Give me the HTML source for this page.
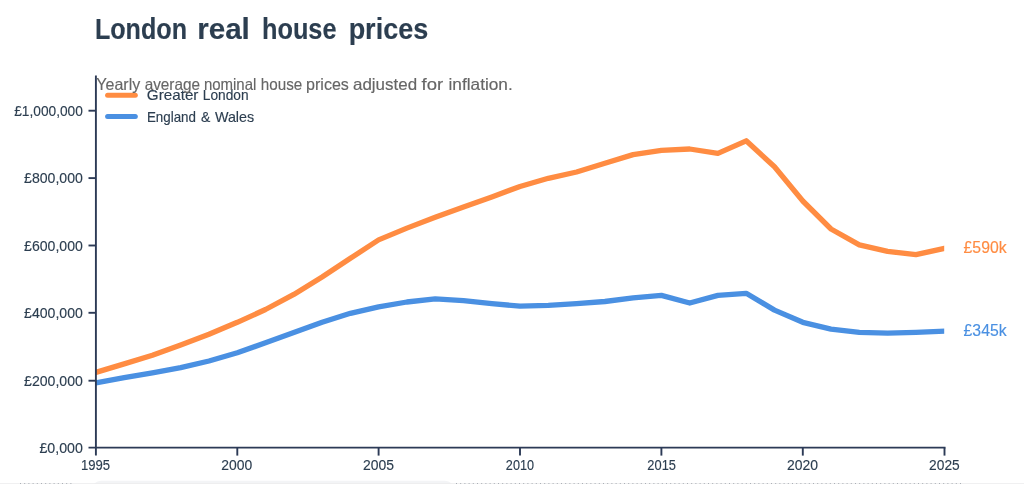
<!DOCTYPE html>
<html lang="en"><head><meta charset="utf-8"><title>London real house prices</title>
<style>
html,body{margin:0;padding:0;background:#fff;}
body{width:1024px;height:484px;overflow:hidden;position:relative;font-family:"Liberation Sans",sans-serif;}
svg{position:absolute;left:0;top:0;display:block}
text{font-family:"Liberation Sans",sans-serif;}
</style></head><body>
<svg width="1024" height="484" viewBox="0 0 1024 484">
<rect x="92" y="480.7" width="362" height="20" rx="9" fill="#f3f4f6"/><rect x="0" y="483.2" width="1024" height="1" fill="#ededee"/><path d="M20,483.7 H73 M456,483.7 H962" stroke="#9aa0a8" stroke-width="1" stroke-dasharray="1 3.2" fill="none"/>
<text y="38.80" font-size="29.5" font-weight="700" fill="#2c3e50" stroke="#2c3e50" stroke-width="0.15"><tspan x="94.90" textLength="92.11" lengthAdjust="spacingAndGlyphs">London</tspan> <tspan x="197.18" textLength="52.68" lengthAdjust="spacingAndGlyphs">real</tspan> <tspan x="262.03" textLength="74.49" lengthAdjust="spacingAndGlyphs">house</tspan> <tspan x="348.64" textLength="79.57" lengthAdjust="spacingAndGlyphs">prices</tspan></text>
<text y="452.70" font-size="15" fill="#2c3e50" stroke="#2c3e50" stroke-width="0.15"><tspan x="39.41" textLength="43.44" lengthAdjust="spacingAndGlyphs">£0,000</tspan></text>
<text y="385.77" font-size="15" fill="#2c3e50" stroke="#2c3e50" stroke-width="0.15"><tspan x="24.11" textLength="58.73" lengthAdjust="spacingAndGlyphs">£200,000</tspan></text>
<text y="317.94" font-size="15" fill="#2c3e50" stroke="#2c3e50" stroke-width="0.15"><tspan x="24.11" textLength="58.73" lengthAdjust="spacingAndGlyphs">£400,000</tspan></text>
<text y="250.56" font-size="15" fill="#2c3e50" stroke="#2c3e50" stroke-width="0.15"><tspan x="24.11" textLength="58.73" lengthAdjust="spacingAndGlyphs">£600,000</tspan></text>
<text y="183.18" font-size="15" fill="#2c3e50" stroke="#2c3e50" stroke-width="0.15"><tspan x="24.11" textLength="58.73" lengthAdjust="spacingAndGlyphs">£800,000</tspan></text>
<text y="115.80" font-size="15" fill="#2c3e50" stroke="#2c3e50" stroke-width="0.15"><tspan x="14.22" textLength="68.59" lengthAdjust="spacingAndGlyphs">£1,000,000</tspan></text>
<text y="470.20" font-size="14.9" fill="#2c3e50" stroke="#2c3e50" stroke-width="0.15"><tspan x="81.02" textLength="29.13" lengthAdjust="spacingAndGlyphs">1995</tspan></text>
<text y="470.20" font-size="14.9" fill="#2c3e50" stroke="#2c3e50" stroke-width="0.15"><tspan x="221.30" textLength="30.95" lengthAdjust="spacingAndGlyphs">2000</tspan></text>
<text y="470.20" font-size="14.9" fill="#2c3e50" stroke="#2c3e50" stroke-width="0.15"><tspan x="363.00" textLength="30.98" lengthAdjust="spacingAndGlyphs">2005</tspan></text>
<text y="470.20" font-size="14.9" fill="#2c3e50" stroke="#2c3e50" stroke-width="0.15"><tspan x="505.87" textLength="28.13" lengthAdjust="spacingAndGlyphs">2010</tspan></text>
<text y="470.20" font-size="14.9" fill="#2c3e50" stroke="#2c3e50" stroke-width="0.15"><tspan x="647.36" textLength="28.58" lengthAdjust="spacingAndGlyphs">2015</tspan></text>
<text y="470.20" font-size="14.9" fill="#2c3e50" stroke="#2c3e50" stroke-width="0.15"><tspan x="787.10" textLength="31.05" lengthAdjust="spacingAndGlyphs">2020</tspan></text>
<text y="470.20" font-size="14.9" fill="#2c3e50" stroke="#2c3e50" stroke-width="0.15"><tspan x="929.11" textLength="30.57" lengthAdjust="spacingAndGlyphs">2025</tspan></text>
<clipPath id="c"><rect x="95.9" y="60" width="848.3000000000001" height="400"/></clipPath><g clip-path="url(#c)">
<path d="M95.9,372.4 L124.2,363.9 L152.4,355.3 L180.7,345.0 L209.0,334.2 L237.3,322.3 L265.5,309.5 L293.8,294.4 L322.1,277.0 L350.4,258.3 L378.6,239.9 L406.9,228.1 L435.2,217.2 L463.5,207.0 L491.8,196.9 L520.0,186.5 L548.3,178.3 L576.6,172.0 L604.9,163.3 L633.1,154.6 L661.4,150.3 L689.7,149.0 L717.9,153.3 L746.2,140.8 L774.5,166.8 L802.8,201.0 L831.0,229.0 L859.3,244.9 L887.6,251.4 L915.9,254.7 L944.1,248.5" fill="none" stroke="#ff8c42" stroke-width="5.3" stroke-linejoin="round" stroke-linecap="square"/>
<path d="M95.9,382.9 L124.2,377.6 L152.4,372.8 L180.7,367.7 L209.0,361.0 L237.3,352.8 L265.5,342.7 L293.8,332.4 L322.1,322.2 L350.4,313.3 L378.6,306.8 L406.9,302.0 L435.2,298.9 L463.5,300.7 L491.8,303.6 L520.0,306.2 L548.3,305.4 L576.6,303.7 L604.9,301.5 L633.1,297.9 L661.4,295.4 L689.7,303.0 L717.9,295.4 L746.2,293.3 L774.5,310.1 L802.8,322.3 L831.0,329.1 L859.3,332.4 L887.6,333.2 L915.9,332.3 L944.1,331.1" fill="none" stroke="#4a90e2" stroke-width="5.3" stroke-linejoin="round" stroke-linecap="square"/></g>
<g stroke="#2c3a56" stroke-width="1.9" fill="none">
<path d="M95.9,75.6 V455.6"/>
<path d="M88.5,447.6 H945.5"/>
<path d="M88.5,380.7 H95.9"/>
<path d="M88.5,312.8 H95.9"/>
<path d="M88.5,245.5 H95.9"/>
<path d="M88.5,178.1 H95.9"/>
<path d="M88.5,110.7 H95.9"/>
<path d="M237.3,447.6 V455.6"/>
<path d="M378.6,447.6 V455.6"/>
<path d="M520.0,447.6 V455.6"/>
<path d="M661.4,447.6 V455.6"/>
<path d="M802.8,447.6 V455.6"/>
<path d="M944.5,447.6 V455.6"/>
</g>
<text y="252.60" font-size="16.2" fill="#ff8c42" stroke="#ff8c42" stroke-width="0.15"><tspan x="963.57" textLength="43.03" lengthAdjust="spacingAndGlyphs">£590k</tspan></text>
<text y="335.60" font-size="16.2" fill="#4a90e2" stroke="#4a90e2" stroke-width="0.15"><tspan x="963.57" textLength="43.03" lengthAdjust="spacingAndGlyphs">£345k</tspan></text>
<path d="M107.6,95.3 H135.3" stroke="#ff8c42" stroke-width="5" stroke-linecap="round"/>
<path d="M107.6,116.6 H135.3" stroke="#4a90e2" stroke-width="5" stroke-linecap="round"/>
<text y="100.20" font-size="14.8" fill="#2c3e50" stroke="#2c3e50" stroke-width="0.15"><tspan x="146.84" textLength="51.59" lengthAdjust="spacingAndGlyphs">Greater</tspan> <tspan x="202.77" textLength="45.75" lengthAdjust="spacingAndGlyphs">London</tspan></text>
<text y="122.10" font-size="14.8" fill="#2c3e50" stroke="#2c3e50" stroke-width="0.15"><tspan x="146.90" textLength="49.04" lengthAdjust="spacingAndGlyphs">England</tspan> <tspan x="201.01" textLength="9.29" lengthAdjust="spacingAndGlyphs">&amp;</tspan> <tspan x="214.93" textLength="39.26" lengthAdjust="spacingAndGlyphs">Wales</tspan></text>
<text y="89.60" font-size="16.5" fill="#666" stroke="#666" stroke-width="0.15"><tspan x="96.34" textLength="43.90" lengthAdjust="spacingAndGlyphs">Yearly</tspan> <tspan x="144.65" textLength="55.42" lengthAdjust="spacingAndGlyphs">average</tspan> <tspan x="203.89" textLength="52.52" lengthAdjust="spacingAndGlyphs">nominal</tspan> <tspan x="260.84" textLength="41.44" lengthAdjust="spacingAndGlyphs">house</tspan> <tspan x="306.06" textLength="42.81" lengthAdjust="spacingAndGlyphs">prices</tspan> <tspan x="352.98" textLength="64.10" lengthAdjust="spacingAndGlyphs">adjusted</tspan> <tspan x="421.52" textLength="21.65" lengthAdjust="spacingAndGlyphs">for</tspan> <tspan x="448.54" textLength="64.21" lengthAdjust="spacingAndGlyphs">inflation.</tspan></text>
</svg></body></html>
